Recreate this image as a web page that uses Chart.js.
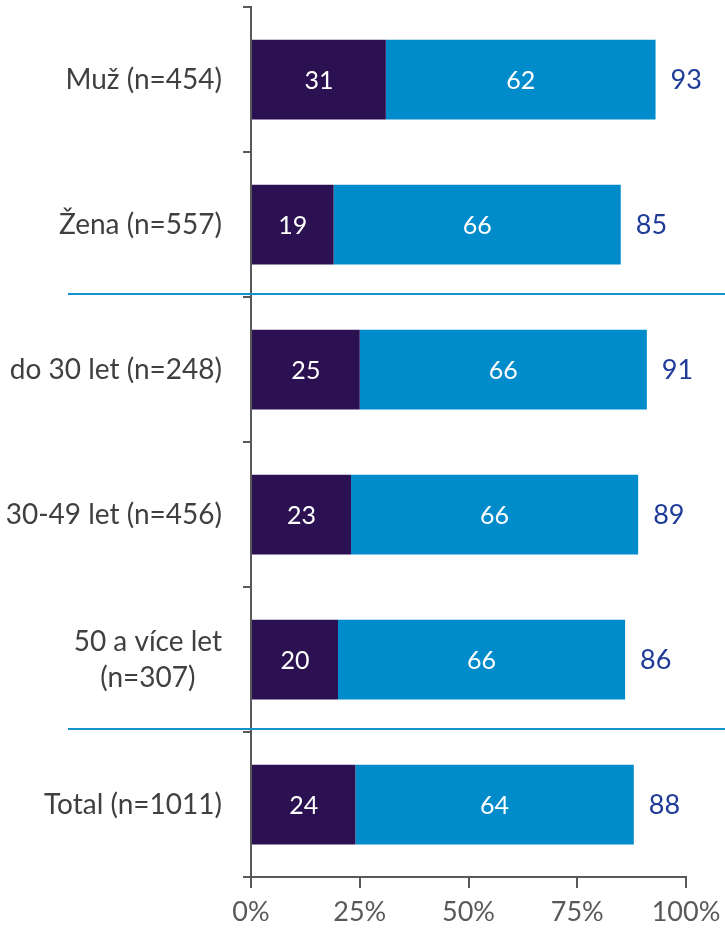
<!DOCTYPE html>
<html>
<head>
<meta charset="utf-8">
<script src="https://cdn.jsdelivr.net/npm/chart.js@4"></script>
<style>
  html, body { margin: 0; padding: 0; background: #ffffff; }
</style>
</head>
<body>
<canvas id="chart" width="725" height="932"></canvas>
<script>
// Data
const categories = [
  ['Muž (n=454)'],
  ['Žena (n=557)'],
  ['do 30 let (n=248)'],
  ['30-49 let (n=456)'],
  ['50 a více let', '(n=307)'],
  ['Total (n=1011)']
];
const darkValues = [31, 19, 25, 23, 20, 24];
const blueValues = [62, 66, 66, 66, 66, 64];
const totalValues = [93, 85, 91, 89, 86, 88];
const xTickValues = [0, 25, 50, 75, 100];
const separatorsAfter = [1, 4];

const FONT = 'Lato, "Open Sans", sans-serif';
const AXIS_GREY = '#595959';

// Labels inside bars, totals, category names and separators
const labelPlugin = {
  id: 'labelPlugin',
  afterDraw(chart) {
    const ctx = chart.ctx;
    const xScale = chart.scales.x;
    const yScale = chart.scales.y;
    ctx.save();

    // values inside segments
    ctx.font = '25px ' + FONT;
    ctx.fillStyle = '#ffffff';
    ctx.textAlign = 'center';
    ctx.textBaseline = 'middle';
    chart.data.datasets.forEach((ds, di) => {
      chart.getDatasetMeta(di).data.forEach((bar, i) => {
        ctx.fillText(String(ds.data[i]), (bar.x + bar.base) / 2, bar.y + 1);
      });
    });

    // totals
    ctx.font = '27px ' + FONT;
    ctx.fillStyle = '#1f3c99';
    ctx.textAlign = 'left';
    totalValues.forEach((t, i) => {
      ctx.fillText(String(t), xScale.getPixelForValue(t) + 15, yScale.getPixelForTick(i) + 1);
    });

    // category labels
    ctx.font = '28px ' + FONT;
    ctx.fillStyle = '#404040';
    const rightEdge = yScale.right - 29;
    categories.forEach((lines, i) => {
      const cy = yScale.getPixelForTick(i);
      const lh = 36;
      if (lines.length === 1) {
        ctx.textAlign = 'right';
        ctx.fillText(lines[0], rightEdge, cy);
      } else {
        const widest = Math.max(...lines.map(l => ctx.measureText(l).width));
        ctx.textAlign = 'center';
        lines.forEach((l, k) => {
          ctx.fillText(l, rightEdge - widest / 2, cy + (k - (lines.length - 1) / 2) * lh);
        });
      }
    });

    // group separators
    ctx.strokeStyle = '#1591ce';
    ctx.lineWidth = 2;
    separatorsAfter.forEach(i => {
      const y = Math.round((yScale.getPixelForTick(i) + yScale.getPixelForTick(i + 1)) / 2) - 3;
      ctx.beginPath();
      ctx.moveTo(68, y);
      ctx.lineTo(chart.width, y);
      ctx.stroke();
    });

    ctx.restore();
  }
};

new Chart(document.getElementById('chart').getContext('2d'), {
  type: 'bar',
  data: {
    labels: categories,
    datasets: [
      {
        label: 'a',
        data: darkValues,
        backgroundColor: '#2b1152',
        barPercentage: 0.55,
        categoryPercentage: 1
      },
      {
        label: 'b',
        data: blueValues,
        backgroundColor: '#008bcb',
        barPercentage: 0.55,
        categoryPercentage: 1
      }
    ]
  },
  options: {
    indexAxis: 'y',
    responsive: false,
    animation: false,
    layout: {
      padding: { top: 7, right: 39, bottom: 0, left: 0 }
    },
    scales: {
      x: {
        stacked: true,
        min: 0,
        max: 100,
        afterBuildTicks: scale => {
          scale.ticks = xTickValues.map(v => ({ value: v }));
        },
        afterFit: scale => {
          scale.height = 55;
          scale.paddingLeft = 0;
          scale.paddingRight = 0;
        },
        ticks: {
          callback: v => v + '%',
          font: { size: 27, family: FONT },
          color: AXIS_GREY,
          padding: 8,
          maxRotation: 0
        },
        grid: {
          drawOnChartArea: false,
          tickLength: 11,
          color: AXIS_GREY,
          lineWidth: 2
        },
        border: { color: AXIS_GREY, width: 2 }
      },
      y: {
        stacked: true,
        afterFit: scale => { scale.width = 251; },
        ticks: { display: false },
        grid: {
          offset: true,
          drawOnChartArea: false,
          tickLength: 8,
          color: AXIS_GREY,
          lineWidth: 2
        },
        border: { color: AXIS_GREY, width: 2 }
      }
    },
    plugins: {
      legend: { display: false },
      tooltip: { enabled: false }
    }
  },
  plugins: [labelPlugin]
});
</script>
</body>
</html>
